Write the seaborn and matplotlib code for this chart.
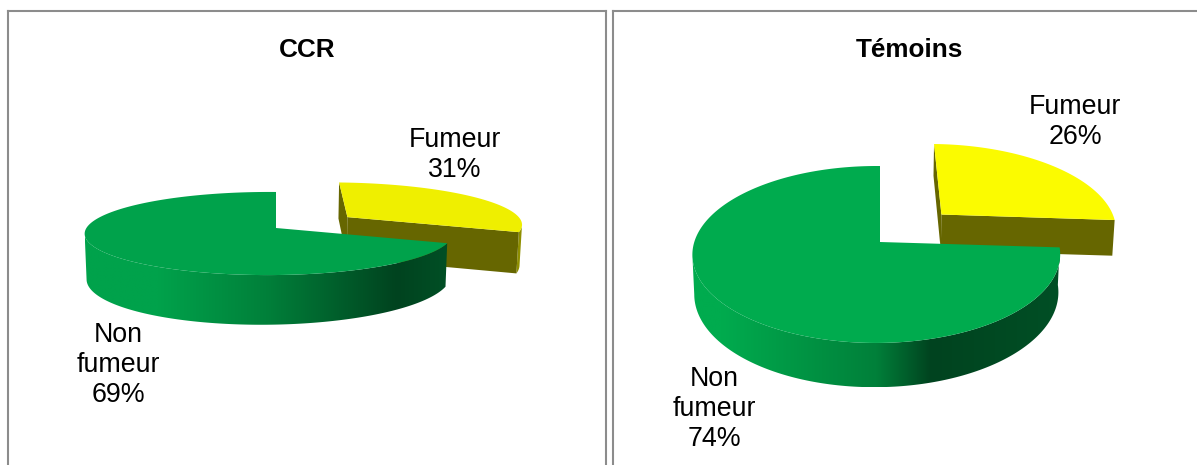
import numpy as np
import matplotlib
matplotlib.use("Agg")
import matplotlib.pyplot as plt
from matplotlib.colors import LinearSegmentedColormap
from matplotlib.patches import Polygon
import seaborn as sns

# Smoking status shares per study group
groups = ["CCR", "Témoins"]
status_labels = ["Fumeur", "Non\nfumeur"]
ccr_shares = [31, 69]
temoins_shares = [26, 74]

WIDTH, HEIGHT = 1197, 465
sns.set_theme(style="white")
plt.rcParams["font.family"] = ["Liberation Sans", "DejaVu Sans"]
FRAME = "#8c8c8c"


def project(style, u, v):
    """Perspective projection of disc coordinates onto the panel."""
    w = 1 + style["k"] * v + style["m"] * u
    return style["cx"] + style["rx"] * u / w, style["cy"] - style["ry"] * v / w, w


def rim(style, a0, a1, radius=1.0, shift=(0.0, 0.0), drop=False):
    a = np.radians(np.linspace(a0, a1, 240))
    x, y, w = project(style, shift[0] + radius * np.sin(a), shift[1] + radius * np.cos(a))
    if drop:
        y = y + style["depth"] / w
        x = style["cx"] + (x - style["cx"]) * 0.99
    return np.column_stack([x, y])


def point(style, u, v, drop=False):
    x, y, w = project(style, u, v)
    if drop:
        y = y + style["depth"] / w
        x = style["cx"] + (x - style["cx"]) * 0.99
    return [x, y]


def draw_pie(ax, style, shares):
    smoker, other = shares
    cut = smoker / (smoker + other) * 360.0
    mid = np.radians(cut / 2)
    shift = (style["explode"] * np.sin(mid), style["explode"] * np.cos(mid))

    # Detached slice: hidden cut wall, lit outer wall, front cut wall, top face
    r = style["slice_radius"]
    upper = rim(style, 0, cut, r, shift)
    lower = rim(style, 0, cut, r, shift, drop=True)
    apex = point(style, *shift)
    apex_low = point(style, *shift, drop=True)
    ax.add_patch(Polygon([upper[0], apex, apex_low, lower[0]],
                         fc=style["wall_dark"], ec="none", zorder=2))
    # the outer wall only shows from the rightmost rim point onwards
    i = int(np.argmax(upper[:, 0]))
    outer = np.vstack([upper[i:], lower[i:][::-1]])
    ax.add_patch(Polygon(outer, fc=style["wall_light"], ec="none", zorder=2))
    ax.add_patch(Polygon([apex, upper[-1], lower[-1], apex_low],
                         fc=style["wall_dark"], ec="none", zorder=3))
    face = np.vstack([[apex], upper])
    ax.add_patch(Polygon(face, fc=style["yellow"], ec="none", zorder=4))

    # Main slice: shaded outer wall up to the leftmost rim point, then the top face
    upper = rim(style, cut, 360)
    lower = rim(style, cut, 360, drop=True)
    j = int(np.argmin(upper[:, 0])) + 1
    wall = np.vstack([upper[:j], lower[:j][::-1]])
    outline = Polygon(wall, fc="none", ec="none", transform=ax.transData, zorder=5)
    ax.add_patch(outline)
    shade = LinearSegmentedColormap.from_list(
        "wall",
        [(0.0, style["green"]), (style["light_to"], style["green"]), (0.5, "#00803a"),
         (style["dark_at"], "#00431f"), (1.0, "#004f25")],
    )
    x0, x1 = wall[:, 0].min(), wall[:, 0].max()
    y0, y1 = wall[:, 1].min(), wall[:, 1].max()
    img = ax.imshow(np.linspace(0, 1, 256)[None, :], cmap=shade, aspect="auto",
                    extent=(x0, x1, y1, y0), zorder=5, interpolation="bilinear")
    img.set_clip_path(outline)
    top = np.vstack([[point(style, 0, 0)], upper])
    ax.add_patch(Polygon(top, fc=style["green"], ec="none", zorder=6))


panels = [
    dict(share=ccr_shares, box=(8, 606), cx=276, cy=228, rx=182, ry=40.8, k=0.1325, m=0.04,
         depth=43, explode=0.5, slice_radius=1.05, green="#00a24b", yellow="#efef00",
         wall_dark="#666600", wall_light="#8f8f00", dark_at=0.86, light_to=0.2,
         fumeur_xy=(455, 155), non_xy=(118, 365)),
    dict(share=temoins_shares, box=(613, 1205), cx=880, cy=242, rx=182, ry=86.7, k=0.141, m=0.02,
         depth=38, explode=0.488, slice_radius=1.02, green="#00ab4e", yellow="#fbfb00",
         wall_dark="#666600", wall_light="#7d7d00", dark_at=0.65, light_to=0.08,
         fumeur_xy=(1075, 122), non_xy=(714, 409)),
]

fig = plt.figure(figsize=(WIDTH / 100, HEIGHT / 100), dpi=100, facecolor="white")
TOP, BOTTOM = 11, 480

for title, style in zip(groups, panels):
    left, right = style["box"]
    ax = fig.add_axes([left / WIDTH, 1 - BOTTOM / HEIGHT,
                       (right - left) / WIDTH, (BOTTOM - TOP) / HEIGHT])
    draw_pie(ax, style, style["share"])
    ax.set_xlim(left, right)
    ax.set_ylim(BOTTOM, TOP)
    ax.set_xticks([])
    ax.set_yticks([])
    for spine in ax.spines.values():
        spine.set_visible(True)
        spine.set_color(FRAME)
        spine.set_linewidth(1.5)
    ax.set_title(title, fontsize=18.8, fontweight="bold", color="black", pad=0,
                 y=1 - (50 - TOP) / (BOTTOM - TOP), va="center")
    for name, value, xy in zip(status_labels, style["share"],
                               (style["fumeur_xy"], style["non_xy"])):
        ax.text(*xy, f"{name}\n{value}%", fontsize=19.3, color="black",
                ha="center", va="center", linespacing=1.2, zorder=8)

fig.savefig("out.png", dpi=100, facecolor="white")
